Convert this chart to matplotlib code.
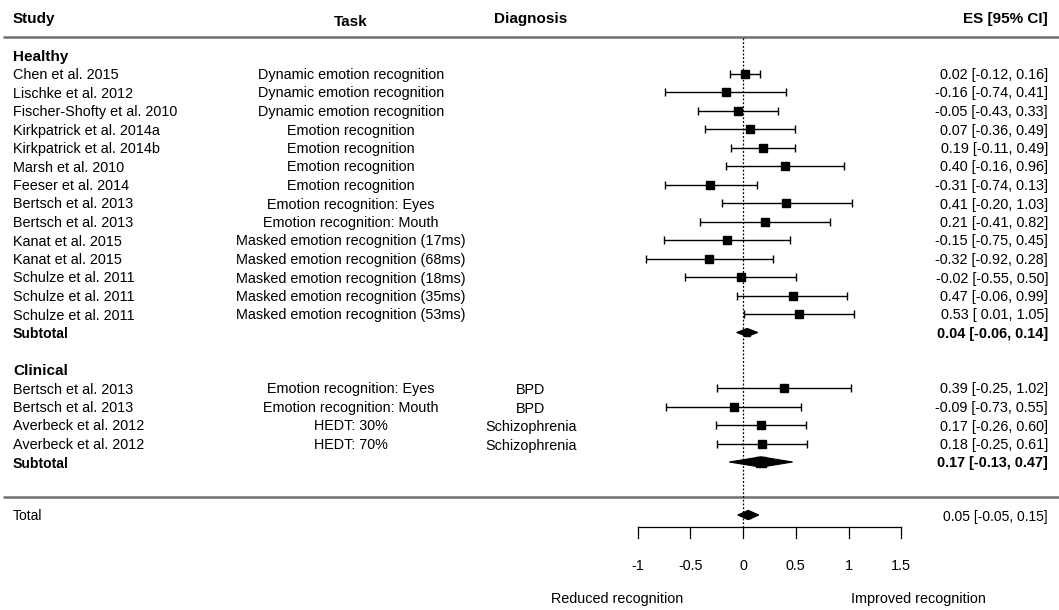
import matplotlib
matplotlib.use("Agg")
import matplotlib.pyplot as plt
from matplotlib import font_manager
from matplotlib.patches import Polygon

# ---------------- data ----------------
healthy_study = ["Chen et al. 2015", "Lischke et al. 2012", "Fischer-Shofty et al. 2010",
                 "Kirkpatrick et al. 2014a", "Kirkpatrick et al. 2014b", "Marsh et al. 2010",
                 "Feeser et al. 2014", "Bertsch et al. 2013", "Bertsch et al. 2013",
                 "Kanat et al. 2015", "Kanat et al. 2015", "Schulze et al. 2011",
                 "Schulze et al. 2011", "Schulze et al. 2011"]
healthy_task = ["Dynamic emotion recognition", "Dynamic emotion recognition", "Dynamic emotion recognition",
                "Emotion recognition", "Emotion recognition", "Emotion recognition", "Emotion recognition",
                "Emotion recognition: Eyes", "Emotion recognition: Mouth",
                "Masked emotion recognition (17ms)", "Masked emotion recognition (68ms)",
                "Masked emotion recognition (18ms)", "Masked emotion recognition (35ms)",
                "Masked emotion recognition (53ms)"]
healthy_es = [0.02, -0.16, -0.05, 0.07, 0.19, 0.40, -0.31, 0.41, 0.21, -0.15, -0.32, -0.02, 0.47, 0.53]
healthy_lo = [-0.12, -0.74, -0.43, -0.36, -0.11, -0.16, -0.74, -0.20, -0.41, -0.75, -0.92, -0.55, -0.06, 0.01]
healthy_hi = [0.16, 0.41, 0.33, 0.49, 0.49, 0.96, 0.13, 1.03, 0.82, 0.45, 0.28, 0.50, 0.99, 1.05]
healthy_sub = (0.04, -0.06, 0.14)

clinical_study = ["Bertsch et al. 2013", "Bertsch et al. 2013", "Averbeck et al. 2012", "Averbeck et al. 2012"]
clinical_task = ["Emotion recognition: Eyes", "Emotion recognition: Mouth", "HEDT: 30%", "HEDT: 70%"]
clinical_diag = ["BPD", "BPD", "Schizophrenia", "Schizophrenia"]
clinical_es = [0.39, -0.09, 0.17, 0.18]
clinical_lo = [-0.25, -0.73, -0.26, -0.25]
clinical_hi = [1.02, 0.55, 0.60, 0.61]
clinical_sub = (0.17, -0.13, 0.47)

total = (0.05, -0.05, 0.15)

xticks = [-1, -0.5, 0, 0.5, 1, 1.5]
xtick_labels = ["-1", "-0.5", "0", "0.5", "1", "1.5"]

# ---------------- fonts ----------------
names = {f.name for f in font_manager.fontManager.ttflist}
REG = "Liberation Sans" if "Liberation Sans" in names else "DejaVu Sans"
NARROW = "Liberation Sans Narrow" if "Liberation Sans Narrow" in names else REG
plt.rcParams['font.family'] = [REG, 'DejaVu Sans']

W, H = 1059, 610
fig = plt.figure(figsize=(W / 100, H / 100), dpi=100)
ax = fig.add_axes([0, 0, 1, 1])
ax.set_axis_off()

# pixel mapping: es 0 -> x=743px, 1 unit = 105.5 px
X0, SC = 743.0, 105.5
ax.set_xlim(-X0 / SC, (W - X0) / SC)
# rows: row 0 -> y=18px, spacing 18.5 px
Y0, RS = 18.0, 18.5
ax.set_ylim((H - Y0) / RS, -Y0 / RS)

def px(xp):
    return (xp - X0) / SC

def py(yp):
    return (yp - Y0) / RS

FS = 10.4
HFS = 11.0
VA = 'center_baseline'
STUDY_X = px(13)
TASK_X = px(351)
DIAG_X = px(531)
ES_X = px(1048)

def fmt(es, lo, hi):
    return f"{es:.2f} [{lo:5.2f}, {hi:.2f}]"

# header
ax.text(STUDY_X, 0, "Study", fontsize=HFS, fontweight='bold', va=VA, ha='left')
ax.text(px(351), py(20), "Task", fontsize=HFS, fontweight='bold', va=VA, ha='center')
ax.text(px(531), py(17), "Diagnosis", fontsize=HFS, fontweight='bold', va=VA, ha='center')
ax.text(ES_X, 0, "ES [95% CI]", fontsize=HFS, fontweight='bold', va=VA, ha='right')
ax.plot([px(3), px(1059)], [py(37)] * 2, color='#707070', lw=1.8, solid_capstyle='butt')
ax.plot([px(3), px(1059)], [py(497)] * 2, color='#707070', lw=1.8, solid_capstyle='butt')

# reference line
ax.plot([0, 0], [py(38), py(527)], color='black', lw=0.9, ls=(0, (1.5, 1.5)))

def study_row(y, study, task, es, lo, hi, diag=None):
    ax.text(STUDY_X, y, study, fontsize=FS, va=VA, ha='left')
    ax.text(TASK_X, y, task, fontsize=FS, va=VA, ha='center')
    if diag:
        ax.text(DIAG_X, y + 0.05, diag, fontsize=FS, va=VA, ha='center')
    ax.text(ES_X, y, fmt(es, lo, hi), fontsize=FS, va=VA, ha='right')
    ax.errorbar([es], [y], xerr=[[es - lo], [hi - es]], fmt='s', color='black',
                ms=5.2, elinewidth=1.0, capsize=2.6, capthick=1.0)

def diamond(y, es, lo, hi, h, sq):
    ax.add_patch(Polygon([(lo, y), (es, y - h), (hi, y), (es, y + h)], closed=True,
                         facecolor='black', edgecolor='black', lw=0.8))
    ax.plot([es], [y], marker='s', color='black', ms=sq)

# healthy
ax.text(STUDY_X, 2, "Healthy", fontsize=HFS, fontweight='bold', va=VA, ha='left')
r = 3
for s, t, e, l, h in zip(healthy_study, healthy_task, healthy_es, healthy_lo, healthy_hi):
    study_row(r, s, t, e, l, h)
    r += 1
ax.text(STUDY_X, r, "Subtotal", fontsize=FS - 0.3, fontweight='bold', va=VA, ha='left')
ax.text(ES_X, r, fmt(*healthy_sub), fontsize=FS, fontweight='bold', va=VA, ha='right')
diamond(r, *healthy_sub, h=0.22, sq=5)

# clinical
r += 2
ax.text(STUDY_X, r, "Clinical", fontsize=HFS, fontweight='bold', va=VA, ha='left')
r += 1
for s, t, e, l, h, d in zip(clinical_study, clinical_task, clinical_es, clinical_lo, clinical_hi, clinical_diag):
    study_row(r, s, t, e, l, h, d)
    r += 1
ax.text(STUDY_X, r, "Subtotal", fontsize=FS - 0.3, fontweight='bold', va=VA, ha='left')
ax.text(ES_X, r, fmt(*clinical_sub), fontsize=FS, fontweight='bold', va=VA, ha='right')
diamond(r, *clinical_sub, h=0.28, sq=7)

# total
ty = py(515)
ax.text(STUDY_X, ty, "Total", fontsize=FS - 0.4, va=VA, ha='left', family=[NARROW, 'DejaVu Sans'])
ax.text(ES_X, ty, fmt(*total), fontsize=FS - 0.4, va=VA, ha='right', family=[NARROW, 'DejaVu Sans'])
diamond(ty, *total, h=0.25, sq=5)

# x axis
ay = py(527)
ty2 = py(538)
ax.plot([xticks[0], xticks[-1]], [ay, ay], color='black', lw=0.9)
for xt, lab in zip(xticks, xtick_labels):
    ax.plot([xt, xt], [ay, ty2], color='black', lw=0.9)
    ax.text(xt, py(565), lab, fontsize=FS, va=VA, ha='center',
            family=[NARROW, 'DejaVu Sans'])

ax.text(px(617), py(598), "Reduced recognition", fontsize=FS, va=VA, ha='center',
        family=[NARROW, 'DejaVu Sans'])
ax.text(px(918), py(598), "Improved recognition", fontsize=FS, va=VA, ha='center',
        family=[NARROW, 'DejaVu Sans'])

fig.savefig("out.png", dpi=100)
